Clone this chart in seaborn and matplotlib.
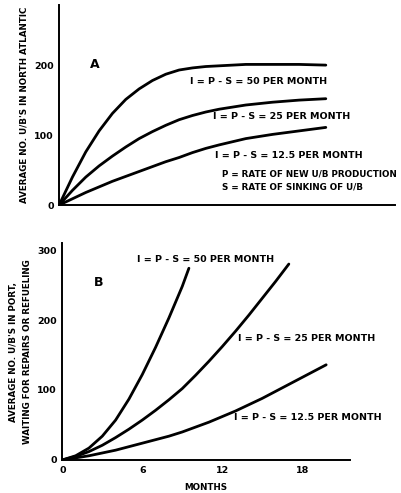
import numpy as np
import pandas as pd
import matplotlib
matplotlib.use("Agg")
import matplotlib.pyplot as plt
import seaborn as sns

# ---------------- data ----------------
series_names = ["50", "25", "12.5"]

# Panel A: average number of U/B's in North Atlantic
months_a = [0, 1, 2, 3, 4, 5, 6, 7, 8, 9, 10, 11, 12, 14, 16, 18, 20]
a_50 = [0, 40, 76, 106, 131, 151, 166, 178, 187, 193, 196, 198, 199, 201, 201, 201, 200]
a_25 = [0, 21, 40, 56, 70, 83, 95, 105, 114, 122, 128, 133, 137, 143, 147, 150, 152]
a_125 = [0, 9, 18, 26, 34, 41, 48, 55, 62, 68, 75, 81, 86, 95, 101, 106, 111]

# Panel B: average number of U/B's in port
months_b50 = [0, 1, 2, 3, 4, 5, 6, 7, 8, 9, 9.5]
b_50 = [0, 6, 17, 34, 57, 87, 122, 161, 203, 248, 274]
months_b25 = [0, 1, 2, 3, 4, 5, 6, 7, 8, 9, 10, 11, 12, 13, 14, 15, 16, 17]
b_25 = [0, 5, 12, 21, 32, 44, 57, 71, 86, 102, 121, 141, 162, 184, 207, 231, 255, 280]
months_b125 = [0, 1, 2, 3, 4, 5, 6, 7, 8, 9, 10, 11, 12, 13, 14, 15, 16, 17, 18, 19, 19.8]
b_125 = [0, 3, 6, 10, 14, 19, 24, 29, 34, 40, 47, 54, 62, 70, 79, 88, 98, 108, 118, 128, 136]

labels_text = ["I = P - S = 50 PER MONTH", "I = P - S = 25 PER MONTH", "I = P - S = 12.5 PER MONTH"]
note_text = ["P = RATE OF NEW U/B PRODUCTION", "S = RATE OF SINKING OF U/B"]
ylabel_a = "AVERAGE NO. U/B'S IN NORTH ATLANTIC"
ylabel_b = "AVERAGE NO. U/B'S IN PORT,\nWAITING FOR REPAIRS OR REFUELING"
xlabel_b = "MONTHS"

# ---------------- build tables ----------------
df_a = pd.concat([
    pd.DataFrame({"month": months_a, "value": a_50, "rate": "50"}),
    pd.DataFrame({"month": months_a, "value": a_25, "rate": "25"}),
    pd.DataFrame({"month": months_a, "value": a_125, "rate": "12.5"}),
])
df_b = pd.concat([
    pd.DataFrame({"month": months_b50, "value": b_50, "rate": "50"}),
    pd.DataFrame({"month": months_b25, "value": b_25, "rate": "25"}),
    pd.DataFrame({"month": months_b125, "value": b_125, "rate": "12.5"}),
])

sns.set_style("white")
plt.rcParams["font.family"] = ["DejaVu Sans"]
plt.rcParams["font.weight"] = "bold"
plt.rcParams["text.color"] = "black"
plt.rcParams["axes.labelcolor"] = "black"
plt.rcParams["xtick.color"] = "black"
plt.rcParams["ytick.color"] = "black"

fig = plt.figure(figsize=(4.02, 4.93), dpi=100)
ax_a = fig.add_axes([0.147, 0.584, 0.836, 0.406])
ax_b = fig.add_axes([0.155, 0.067, 0.716, 0.44])

pal = {"50": "black", "25": "black", "12.5": "black"}
line_kw = dict(linewidth=2.0, legend=False, estimator=None, sort=False)
sns.lineplot(data=df_a, x="month", y="value", hue="rate", palette=pal, ax=ax_a, **line_kw)
sns.lineplot(data=df_b, x="month", y="value", hue="rate", palette=pal, ax=ax_b, **line_kw)
for ax in (ax_a, ax_b):
    for ln in ax.get_lines():
        ln.set_solid_joinstyle("round")
        ln.set_solid_capstyle("round")

fs = 6.3
fl = 6.8
for ax in (ax_a, ax_b):
    for s in ("top", "right"):
        ax.spines[s].set_visible(False)
    for s in ("left", "bottom"):
        ax.spines[s].set_linewidth(1.4)
        ax.spines[s].set_color("black")
    ax.set_xlabel("")
    ax.set_ylabel("")
    ax.tick_params(direction="in", length=7, width=1.3, colors="black",
                   labelcolor="black", labelsize=fs + 0.5, pad=4)

# Panel A
ax_a.set_xlim(0, 25.2)
ax_a.set_ylim(0, 286)
ax_a.set_xticks([6, 12, 18, 24])
ax_a.set_xticklabels([])
ax_a.set_yticks([0, 100, 200])
ax_a.set_ylabel(ylabel_a, fontsize=fs, fontweight="bold", labelpad=4, color="black")
ax_a.text(2.3, 201, "A", fontsize=9, fontweight="bold", va="center", color="black")
ax_a.text(9.8, 177, labels_text[0], fontsize=fl, fontweight="bold", va="center", color="black")
ax_a.text(11.55, 126, labels_text[1], fontsize=fl, fontweight="bold", va="center", color="black")
ax_a.text(11.7, 71, labels_text[2], fontsize=fl, fontweight="bold", va="center", color="black")
ax_a.text(12.2, 44, note_text[0], fontsize=fs, fontweight="bold", va="center", color="black")
ax_a.text(12.2, 26, note_text[1], fontsize=fs, fontweight="bold", va="center", color="black")

# Panel B
ax_b.set_xlim(0, 21.6)
ax_b.set_ylim(0, 310)
ax_b.set_xticks([0, 6, 12, 18])
ax_b.set_yticks([0, 100, 200, 300])
ax_b.set_xlabel(xlabel_b, fontsize=fs, fontweight="bold", labelpad=6, color="black")
ax_b.set_ylabel(ylabel_b, fontsize=fs, fontweight="bold", labelpad=4, linespacing=1.7, color="black")
ax_b.text(2.4, 253, "B", fontsize=9, fontweight="bold", va="center", color="black")
ax_b.text(5.6, 287, labels_text[0], fontsize=fl, fontweight="bold", va="center", color="black")
ax_b.text(13.2, 173, labels_text[1], fontsize=fl, fontweight="bold", va="center", color="black")
ax_b.text(12.9, 60, labels_text[2], fontsize=fl, fontweight="bold", va="center", color="black")

fig.savefig("out.png", dpi=100)
